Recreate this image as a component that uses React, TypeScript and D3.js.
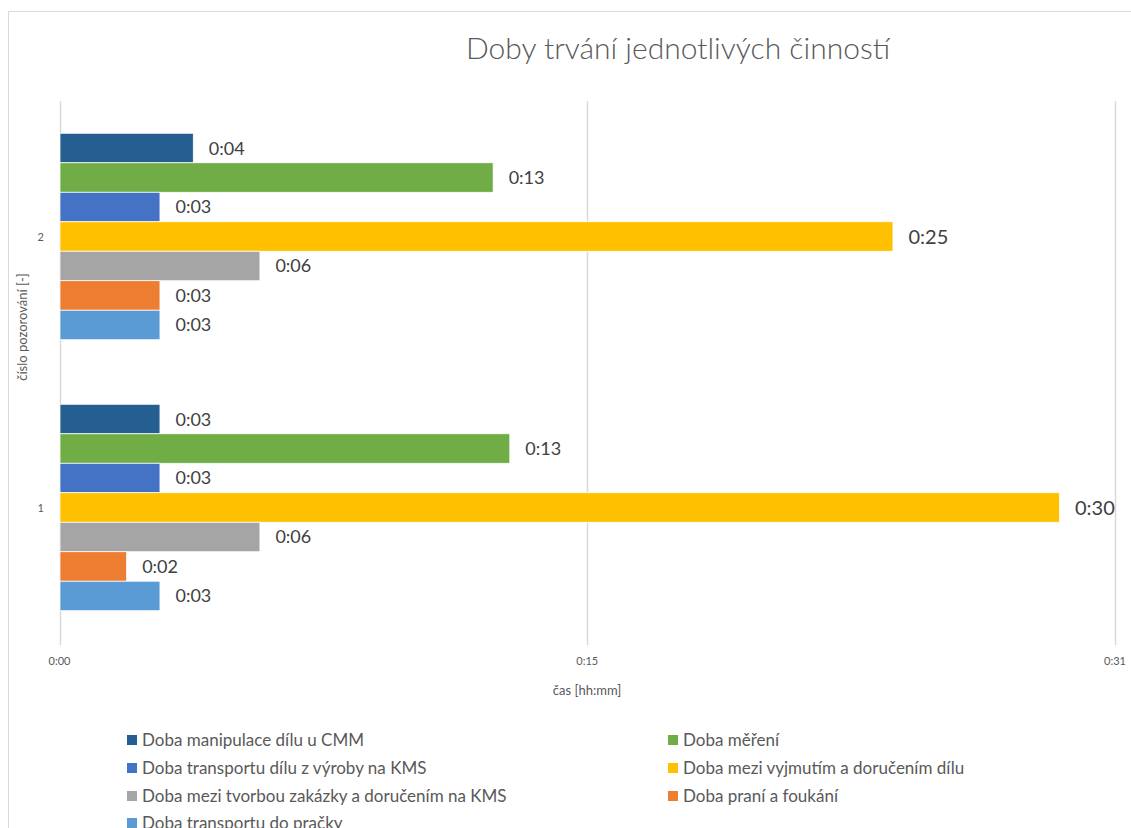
import React from "react";
import * as d3 from "d3";

// ---- data ----
const categories = ["1", "2"]; // číslo pozorování
const seriesNames = [
  "Doba manipulace dílu u CMM",
  "Doba měření",
  "Doba transportu dílu z výroby na KMS",
  "Doba mezi vyjmutím a doručením dílu",
  "Doba mezi tvorbou zakázky a doručením na KMS",
  "Doba praní a foukání",
  "Doba transportu do pračky",
];
const seriesColors = ["#255E91", "#70AD47", "#4472C4", "#FFC000", "#A5A5A5", "#ED7D31", "#5B9BD5"];
// durations in minutes, per series: [pozorování 1, pozorování 2]
const manipulace = [3, 4];
const mereni = [13.5, 13];
const transportKMS = [3, 3];
const vyjmutiDoruceni = [30, 25];
const zakazkaKMS = [6, 6];
const praniFoukani = [2, 3];
const transportPracka = [3, 3];
const seriesValues = [manipulace, mereni, transportKMS, vyjmutiDoruceni, zakazkaKMS, praniFoukani, transportPracka];

const axisMaxMinutes = 31.68; // 0.022 day
const xTickValues = [0, 15.84, 31.68];
const xTickLabels = ["0:00", "0:15", "0:31"];

const fmtTime = (m: number) => {
  const mins = Math.floor(m + 1e-6);
  const h = Math.floor(mins / 60);
  return `${h}:${String(mins % 60).padStart(2, "0")}`;
};

const FONT = "Lato, 'Open Sans', sans-serif";
const TXT = "#595959";

export default function App() {
  const W = 1131, H = 828;
  const plotTop = 101, plotBottom = 643;
  const x = d3.scaleLinear().domain([0, axisMaxMinutes]).range([59.5, 1115]);
  const yCat = d3.scaleBand<string>().domain([...categories].reverse()).range([plotTop, plotBottom]).padding(0);
  const gapRatio = 2.19;
  const groupW = (yCat.bandwidth() * seriesNames.length) / (seriesNames.length + gapRatio);
  const ySer = d3.scaleBand<string>().domain(seriesNames).range([0, groupW]);
  const groupOffset = (yCat.bandwidth() - groupW) / 2;

  const legendCols = [127, 668];
  const legendRows = [740, 768, 796, 823];

  return (
    <svg width={W} height={H} style={{ position: "absolute", left: 0, top: 0, background: "#fff" }} fontFamily={FONT}>
      <rect x={0} y={0} width={W} height={H} fill="#fff" />
      <rect x={8.5} y={11.5} width={1300} height={900} fill="none" stroke="#D9D9D9" strokeWidth={1} />
      <text x={678} y={59} textAnchor="middle" fontSize={30} fill={TXT} fontWeight={300}>
        Doby trvání jednotlivých činností
      </text>

      {/* gridlines */}
      {xTickValues.map((t, i) => (
        <line key={i} x1={Math.round(x(t)) + 0.5} x2={Math.round(x(t)) + 0.5} y1={plotTop} y2={plotBottom + 2} stroke="#D9D9D9" strokeWidth={1.5} />
      ))}
      {xTickValues.map((t, i) => (
        <text key={i} x={x(t)} y={665} textAnchor="middle" fontSize={11} fill={TXT}>
          {xTickLabels[i]}
        </text>
      ))}
      <text x={587} y={695} textAnchor="middle" fontSize={13} fill={TXT}>čas [hh:mm]</text>

      <text transform={`translate(27,327) rotate(-90)`} textAnchor="middle" fontSize={13} fill={TXT}>
        číslo pozorování [-]
      </text>

      {categories.map((c, ci) => (
        <g key={c}>
          <text x={44} y={yCat(c)! + yCat.bandwidth() / 2 + 4} textAnchor="end" fontSize={11} fill={TXT}>{c}</text>
          {seriesNames.map((s, si) => {
            const v = seriesValues[si][ci];
            const y0 = yCat(c)! + groupOffset + ySer(s)!;
            const big = si === 3;
            return (
              <g key={s}>
                <rect x={x(0) + 0.5} y={y0} width={x(v) - x(0)} height={ySer.bandwidth()} fill={seriesColors[si]} stroke="#fff" strokeWidth={0.75} />
                <text x={x(v) + 16} y={y0 + ySer.bandwidth() / 2} dy="0.36em" fontSize={big ? 20 : 18} fill="#404040">
                  {fmtTime(v)}
                </text>
              </g>
            );
          })}
        </g>
      ))}

      {/* legend */}
      {seriesNames.map((s, i) => {
        const col = i % 2, row = Math.floor(i / 2);
        const lx = legendCols[col], ly = legendRows[row];
        return (
          <g key={s}>
            <rect x={lx} y={ly - 5} width={10} height={10} fill={seriesColors[i]} />
            <text x={lx + 15} y={ly} dy="0.35em" fontSize={17} fill={TXT}>{s}</text>
          </g>
        );
      })}
    </svg>
  );
}
